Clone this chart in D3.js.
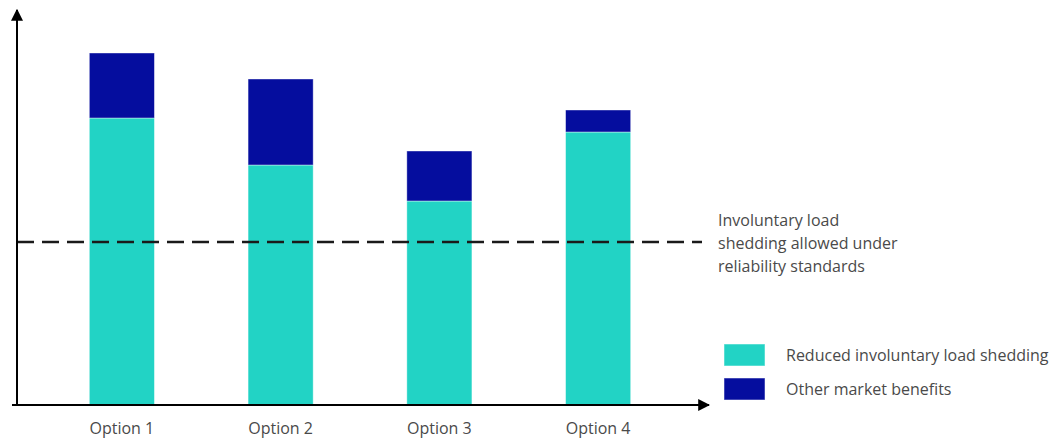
<!DOCTYPE html>
<html>
<head>
<meta charset="utf-8">
<script src="https://d3js.org/d3.v7.min.js"></script>
<style>
  body { margin: 0; background: #fff; }
  text { font-family: "Open Sans", sans-serif; fill: #4a4a4a; }
</style>
</head>
<body>
<svg width="1051" height="438"></svg>
<script>
var options = ["Option 1", "Option 2", "Option 3", "Option 4"];
var reducedShedding = [287, 240, 204, 273];
var otherBenefits = [65, 86, 50, 22];
var allowedShedding = 163;
var seriesNames = ["Reduced involuntary load shedding", "Other market benefits"];
var noteLines = ["Involuntary load", "shedding allowed under", "reliability standards"];

var svg = d3.select("svg");
var colors = ["#22d3c5", "#050d9e"];

var x = d3.scaleBand()
    .domain(options)
    .range([2, 718])
    .paddingInner(0.59)
    .paddingOuter(0.55);

var y = d3.scaleLinear()
    .domain([0, 393])
    .range([405, 12]);

var rows = options.map(function(o, i) {
  return { option: o, reduced: reducedShedding[i], other: otherBenefits[i] };
});
var stack = d3.stack().keys(["reduced", "other"])(rows);

svg.append("g")
  .selectAll("g")
  .data(stack)
  .enter().append("g")
    .attr("fill", function(d, i) { return colors[i]; })
  .selectAll("rect")
  .data(function(d) { return d; })
  .enter().append("rect")
    .attr("x", function(d) { return x(d.data.option); })
    .attr("y", function(d) { return y(d[1]); })
    .attr("width", x.bandwidth())
    .attr("height", function(d) { return y(d[0]) - y(d[1]); })
    .attr("stroke", "#ffffff")
    .attr("stroke-opacity", 0.5)
    .attr("stroke-width", 0.8);

// dashed threshold line
svg.append("line")
    .attr("x1", 17).attr("x2", 702)
    .attr("y1", y(allowedShedding)).attr("y2", y(allowedShedding))
    .attr("stroke", "#1a1a1a")
    .attr("stroke-width", 2.5)
    .attr("stroke-dasharray", "17,8");

// axes with arrows
svg.append("defs").append("marker")
    .attr("id", "arrow")
    .attr("viewBox", "0 0 10 10")
    .attr("refX", 9).attr("refY", 5)
    .attr("markerWidth", 6).attr("markerHeight", 6)
    .attr("markerUnits", "strokeWidth")
    .attr("orient", "auto")
  .append("path")
    .attr("d", "M0,0L10,5L0,10z")
    .attr("fill", "#000");

svg.append("line")
    .attr("x1", 17).attr("y1", y(0) + 1)
    .attr("x2", 17).attr("y2", 10)
    .attr("stroke", "#000").attr("stroke-width", 2)
    .attr("marker-end", "url(#arrow)");

svg.append("line")
    .attr("x1", 12).attr("y1", y(0))
    .attr("x2", 709).attr("y2", y(0))
    .attr("stroke", "#000").attr("stroke-width", 2)
    .attr("marker-end", "url(#arrow)");

// category labels
svg.append("g")
  .selectAll("text")
  .data(options)
  .enter().append("text")
    .attr("x", function(d) { return x(d) + x.bandwidth() / 2; })
    .attr("y", 434)
    .attr("text-anchor", "middle")
    .style("font-size", "16px")
    .text(function(d) { return d; });

// note next to dashed line
svg.append("g")
  .selectAll("text")
  .data(noteLines)
  .enter().append("text")
    .attr("x", 718)
    .attr("y", function(d, i) { return 226 + i * 23; })
    .style("font-size", "16px")
    .text(function(d) { return d; });

// legend
var legend = svg.append("g")
  .selectAll("g")
  .data(seriesNames)
  .enter().append("g")
    .attr("transform", function(d, i) { return "translate(724," + (344 + i * 34) + ")"; });

legend.append("rect")
    .attr("width", 41).attr("height", 22)
    .attr("fill", function(d, i) { return colors[i]; })
    .attr("stroke", "#ffffff").attr("stroke-opacity", 0.5);

legend.append("text")
    .attr("x", 62).attr("y", 17)
    .style("font-size", "16px")
    .text(function(d) { return d; });
</script>
</body>
</html>
